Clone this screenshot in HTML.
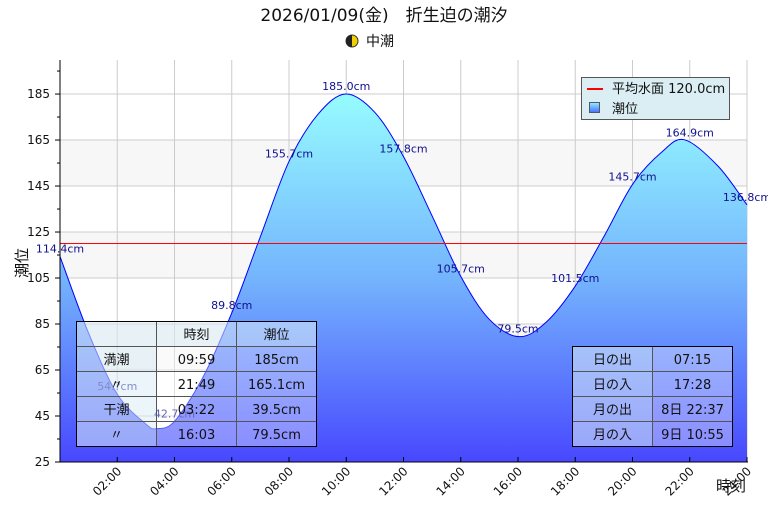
<!DOCTYPE html>
<html><head><meta charset="utf-8"><style>
body{margin:0;background:#fff;width:768px;height:512px;overflow:hidden}
text{font-family:"DejaVu Sans","Noto Sans CJK JP",sans-serif}
</style></head><body>
<svg id="chart" width="768" height="512" viewBox="0 0 768 512" xmlns="http://www.w3.org/2000/svg">
<defs>
<linearGradient id="fillg" x1="0" y1="94" x2="0" y2="462" gradientUnits="userSpaceOnUse">
<stop offset="0" stop-color="#96fcff"/><stop offset="0.5" stop-color="#74b4fd"/><stop offset="1" stop-color="#4848ff"/>
</linearGradient>
<linearGradient id="legg" x1="0" y1="0" x2="0" y2="1"><stop offset="0" stop-color="#8ef0ff"/><stop offset="1" stop-color="#4a6cff"/></linearGradient>
</defs>
<text x="384" y="21" font-size="17" text-anchor="middle" fill="#111">2026/01/09(金)　折生迫の潮汐</text>
<g>
<circle cx="352" cy="41" r="6" fill="#f0d000" stroke="#333" stroke-width="1"/>
<path d="M352 35 A6 6 0 0 0 352 47 Z" fill="#222"/>
<text x="366" y="46" font-size="14" fill="#111">中潮</text>
</g>
<g id="bands"></g><g id="grid"></g><g id="area"></g><g id="axes"></g><g id="labels"></g>
<text transform="translate(27,263) rotate(-90)" font-size="15" text-anchor="middle" fill="#111">潮位</text>
<text x="731" y="491" font-size="15" text-anchor="middle" fill="#111">時刻</text>
<g>
<rect x="581.5" y="77.5" width="148" height="42" fill="#dbeef3" stroke="#555"/>
<line x1="587" y1="89" x2="603" y2="89" stroke="#ff0000" stroke-width="2"/>
<text x="612" y="93" font-size="13" fill="#111">平均水面 120.0cm</text>
<rect x="589.5" y="102.5" width="10" height="10" fill="url(#legg)" stroke="#556"/>
<text x="612" y="113" font-size="13" fill="#111">潮位</text>
</g>
<g id="tables"></g>
</svg>
<script>
const hours=[0,1,2,3,3.37,4,5,6,7,8,9,9.98,11,12,13,14,15,16.05,17,18,19,20,21,21.82,23,24];
const levels=[114.4,81,54.5,41.5,39.5,42.7,62,89.8,123,155.7,176,185,177,157.8,132,105.7,87,79.5,86,101.5,123,145.7,159.5,165.1,153.5,136.8];
const labelHours=[0,2,4,6,8,10,12,14,16,18,20,22,24];
const labelValues=["114.4","54.?","42.7","89.8","155.7","185.0","157.8","105.7","79.5","101.5","145.7","164.9","136.8"];
const labelNums=[114.4,54.5,42.7,89.8,155.7,185.0,157.8,105.7,79.5,101.5,145.7,164.9,136.8];
const yTicks=[25,45,65,85,105,125,145,165,185];
const xTicks=[2,4,6,8,10,12,14,16,18,20,22,24];
const meanLevel=120;
const X0=60,X1=747,Y0=462,Y1=60;
const xs=h=>X0+(X1-X0)*h/24;
const ys=v=>Y0-(v-25)*(Y0-Y1)/(199.8-25);
const NS="http://www.w3.org/2000/svg";
function mk(p,t,a){const e=document.createElementNS(NS,t);for(const k in a)e.setAttribute(k,a[k]);p.appendChild(e);return e;}
const bands=document.getElementById('bands');
[[65,85],[105,125],[145,165]].forEach(b=>{const r=mk(bands,'rect',{x:X0,y:ys(b[1]),width:X1-X0,height:ys(b[0])-ys(b[1]),fill:'#f7f7f7'});

});
const grid=document.getElementById('grid');
yTicks.forEach(v=>{const l=mk(grid,'line',{x1:X0,x2:X1,y1:ys(v),y2:ys(v),stroke:'#ccc'});

});
xTicks.forEach(h=>{const l=mk(grid,'line',{x1:xs(h),x2:xs(h),y1:Y1,y2:Y0,stroke:'#ccc'});

});
const pts=hours.map((h,i)=>[xs(h),ys(levels[i])]);
let d='M'+pts[0][0]+','+pts[0][1];
for(let i=0;i<pts.length-1;i++){const p0=pts[i-1]||pts[i],p1=pts[i],p2=pts[i+1],p3=pts[i+2]||pts[i+1];
d+=` C${p1[0]+(p2[0]-p0[0])/6},${p1[1]+(p2[1]-p0[1])/6} ${p2[0]-(p3[0]-p1[0])/6},${p2[1]-(p3[1]-p1[1])/6} ${p2[0]},${p2[1]}`;}
const area=document.getElementById('area');
const fa=mk(area,'path',{d:d+` L${X1},${Y0} L${X0},${Y0} Z`,fill:'url(#fillg)'});


const ln=mk(area,'path',{d:d,fill:'none',stroke:'#0000ff','stroke-width':1});


const ml=mk(area,'rect',{x:X0,y:ys(meanLevel)-0.5,width:X1-X0,height:1,fill:'#ff0000'});


const ax=document.getElementById('axes');
mk(ax,'line',{x1:X0,x2:X0,y1:Y1,y2:Y0,stroke:'#000'});
mk(ax,'line',{x1:X0,x2:X1+1,y1:Y0,y2:Y0,stroke:'#000'});
yTicks.forEach(v=>{mk(ax,'line',{x1:X0-5,x2:X0,y1:ys(v),y2:ys(v),stroke:'#000'});
mk(ax,'line',{x1:X0-3,x2:X0,y1:ys(v+10),y2:ys(v+10),stroke:'#000'});
const t=mk(ax,'text',{x:X0-10,y:ys(v)+4,'font-size':12,'text-anchor':'end',fill:'#111'});t.textContent=v;

});
xTicks.forEach(h=>{mk(ax,'line',{x1:xs(h),x2:xs(h),y1:Y0-5,y2:Y0,stroke:'#000'});
const t=mk(ax,'text',{transform:`translate(${xs(h)+5},${Y0+10}) rotate(-45)`,'font-size':12,'text-anchor':'end',fill:'#111'});
t.textContent=String(h).padStart(2,'0')+':00';

});
const lb=document.getElementById('labels');
labelHours.forEach((h,i)=>{const t=mk(lb,'text',{x:xs(h),y:ys(labelNums[i])-4,'font-size':11,'text-anchor':'middle',fill:'#101090'});
t.textContent=labelValues[i]+'cm';

});
const tb=document.getElementById('tables');
function table(x,y,cw,rh,rows,name,hdr){
 const g=mk(tb,'g',{});
 
 
 rows.forEach((r,ri)=>r.forEach((c,ci)=>{
  const light=(hdr&&ri==0)||ci==0;
  mk(g,'rect',{x:x+ci*cw,y:y+ri*rh,width:cw,height:rh,fill:light?'rgba(220,238,245,0.55)':'rgba(255,255,255,0.35)',stroke:'#555'});
  const t=mk(g,'text',{x:x+ci*cw+cw/2,y:y+ri*rh+rh/2+5,'font-size':13,'text-anchor':'middle',fill:'#111'});t.textContent=c;}));
 mk(g,'rect',{x:x,y:y,width:cw*rows[0].length,height:rh*rows.length,fill:'none',stroke:'#000','stroke-width':1});
}
table(76.5,321.5,80,25,[["","時刻","潮位"],["満潮","09:59","185cm"],["〃","21:49","165.1cm"],["干潮","03:22","39.5cm"],["〃","16:03","79.5cm"]],'tide-table',true);
table(572.5,346.5,80,25,[["日の出","07:15"],["日の入","17:28"],["月の出","8日 22:37"],["月の入","9日 10:55"]],'sun-moon-table',false);
</script>
</body></html>
